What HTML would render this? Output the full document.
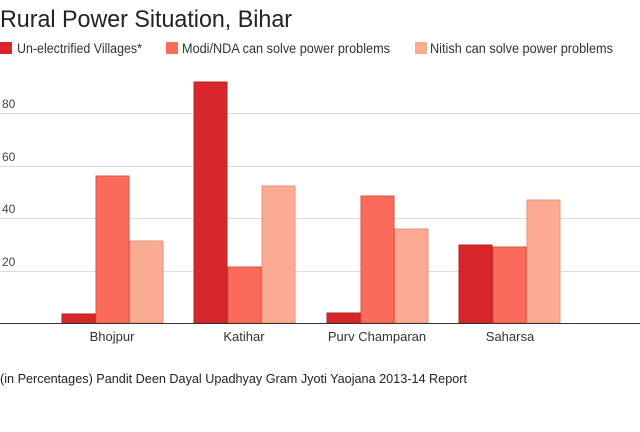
<!DOCTYPE html>
<html><head><style>
body{margin:0;width:640px;height:427px;background:#fff;overflow:hidden;font-family:"Liberation Sans",sans-serif;}
</style></head><body>
<svg width="640" height="427" xmlns="http://www.w3.org/2000/svg" font-family="Liberation Sans, sans-serif">
<text x="0" y="27" font-size="24" fill="#222" textLength="292" lengthAdjust="spacingAndGlyphs">Rural Power Situation, Bihar</text>
<rect x="0" y="42" width="12" height="12" fill="#d8272b"/>
<text x="17" y="53" font-size="13.5" fill="#333" textLength="125" lengthAdjust="spacingAndGlyphs">Un-electrified Villages*</text>
<rect x="166" y="42" width="12" height="12" fill="#fb6b5b"/>
<text x="182" y="53" font-size="13.5" fill="#333" textLength="208" lengthAdjust="spacingAndGlyphs">Modi/NDA can solve power problems</text>
<rect x="415" y="42" width="12" height="12" fill="#fcab93"/>
<text x="430" y="53" font-size="13.5" fill="#333" textLength="183" lengthAdjust="spacingAndGlyphs">Nitish can solve power problems</text>
<g stroke="#ddd" stroke-width="1">
<line x1="0" y1="113.5" x2="640" y2="113.5"/>
<line x1="0" y1="166.5" x2="640" y2="166.5"/>
<line x1="0" y1="218.5" x2="640" y2="218.5"/>
<line x1="0" y1="271.5" x2="640" y2="271.5"/>
</g>
<g font-size="12" fill="#444">
<text x="2" y="108">80</text><text x="2" y="161">60</text><text x="2" y="213">40</text><text x="2" y="266">20</text>
</g>
<g stroke-width="1">
<rect x="62" y="314" width="33" height="9" fill="#d8272b" stroke="#b81f22"/>
<rect x="96" y="176" width="33" height="147" fill="#fb6b5b" stroke="#e0503f"/>
<rect x="130" y="241" width="33" height="82" fill="#fcab93" stroke="#e8907a"/>
<rect x="194" y="82" width="33" height="241" fill="#d8272b" stroke="#b81f22"/>
<rect x="228" y="267" width="33" height="56" fill="#fb6b5b" stroke="#e0503f"/>
<rect x="262" y="186" width="33" height="137" fill="#fcab93" stroke="#e8907a"/>
<rect x="327" y="313" width="33" height="10" fill="#d8272b" stroke="#b81f22"/>
<rect x="361" y="196" width="33" height="127" fill="#fb6b5b" stroke="#e0503f"/>
<rect x="395" y="229" width="33" height="94" fill="#fcab93" stroke="#e8907a"/>
<rect x="459" y="245" width="33" height="78" fill="#d8272b" stroke="#b81f22"/>
<rect x="493" y="247" width="33" height="76" fill="#fb6b5b" stroke="#e0503f"/>
<rect x="527" y="200" width="33" height="123" fill="#fcab93" stroke="#e8907a"/>
</g>
<line x1="0" y1="323.5" x2="640" y2="323.5" stroke="#333" stroke-width="1"/>
<g font-size="13" fill="#333" text-anchor="middle">
<text x="112" y="341">Bhojpur</text><text x="244" y="341">Katihar</text><text x="377" y="341">Purv Champaran</text><text x="510" y="341">Saharsa</text>
</g>
<text x="0" y="383" font-size="12.5" fill="#222" textLength="467" lengthAdjust="spacingAndGlyphs">(in Percentages) Pandit Deen Dayal Upadhyay Gram Jyoti Yaojana 2013-14 Report</text>
</svg>
</body></html>
